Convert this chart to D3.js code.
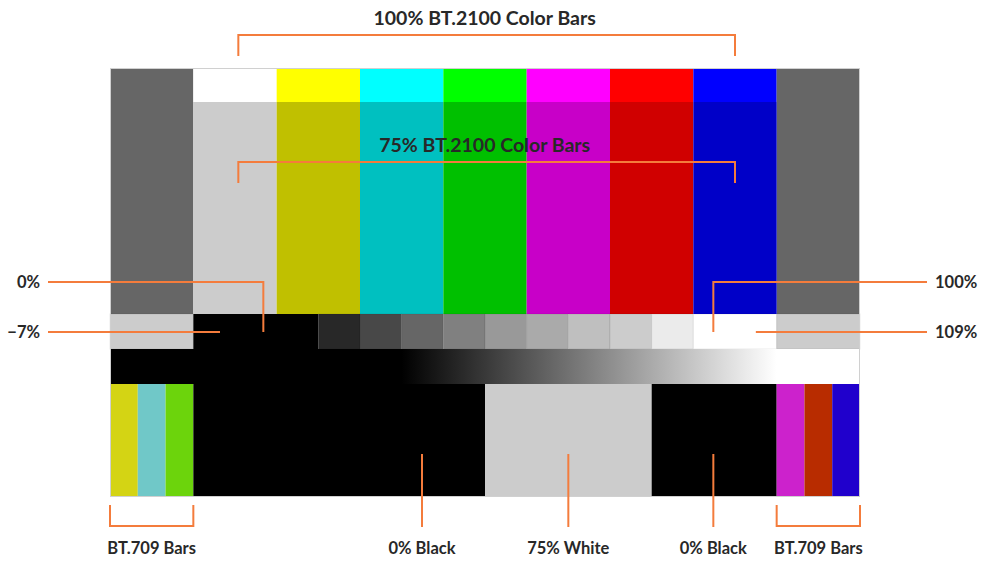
<!DOCTYPE html>
<html><head><meta charset="utf-8">
<script src="https://cdn.jsdelivr.net/npm/d3@7"></script>
<style>
body{margin:0;background:#fff}
svg{display:block}
text{font-family:Lato,"Open Sans",sans-serif;font-weight:700;fill:#282828}
</style>
</head><body>
<svg id="c" width="981" height="561"></svg>
<script>
// ---------- data ----------
const columns = ["Gray","White","Yellow","Cyan","Green","Magenta","Red","Blue","Gray"];
const colors100 = ["#666666","#ffffff","#ffff00","#00ffff","#00ff00","#ff00ff","#ff0000","#0000ff","#666666"];
const colors75  = ["#666666","#cccccc","#c0c000","#00c0c0","#00c000","#c800c8","#d00000","#0000c8","#666666"];

const stepStarts = [0, 1, 2.5, 3, 3.5, 4, 4.5, 5, 5.5, 6, 6.5, 7, 8];
const stepEnds   = [1, 2.5, 3, 3.5, 4, 4.5, 5, 5.5, 6, 6.5, 7, 8, 9];
const stepColors = ["#cccccc","#000000","#282828","#484848","#666666","#808080","#999999","#aaaaaa","#bfbfbf","#cccccc","#ebebeb","#ffffff","#cccccc"];

const rampStart = 3.5, rampEnd = 8;

const bottomStarts = [0, 1/3, 2/3, 1, 4.5, 6.5, 8, 8+1/3, 8+2/3];
const bottomEnds   = [1/3, 2/3, 1, 4.5, 6.5, 8, 8+1/3, 8+2/3, 9];
const bottomColors = ["#d4d414","#70c8c8","#6cd40c","#000000","#cccccc","#000000","#cc22cc","#b82c00","#2000cc"];

const topTitles = ["100% BT.2100 Color Bars", "75% BT.2100 Color Bars"];
const bracketFrom = 1.54, bracketTo = 7.5;

const leftLabels  = ["0%", "\u22127%"];
const leftEnds    = [1.84, 1.32];
const rightLabels = ["100%", "109%"];
const rightEnds   = [7.24, 7.75];

const bottomLabels = ["BT.709 Bars", "0% Black", "75% White", "0% Black", "BT.709 Bars"];
const bottomAt     = [0.5, 3.744, 5.5, 7.24, 8.5];

// ---------- layout ----------
const svg = d3.select("#c");
const x = d3.scaleLinear().domain([0, 9]).range([110, 860]);
const rowY = [68, 102, 314, 349, 384, 497];
const orange = "#f47c3c";

const g = svg.append("g");

// top row: 100% strip + 75% bars
g.selectAll(".c100").data(columns).join("rect")
  .attr("x", (d,i) => x(i)).attr("width", x(1)-x(0))
  .attr("y", rowY[0]).attr("height", (d,i) => (i===0||i===8) ? rowY[2]-rowY[0] : rowY[1]-rowY[0])
  .attr("fill", (d,i) => colors100[i]);
g.selectAll(".c75").data(columns.slice(1,8)).join("rect")
  .attr("x", (d,i) => x(i+1)).attr("width", x(1)-x(0))
  .attr("y", rowY[1]).attr("height", rowY[2]-rowY[1])
  .attr("fill", (d,i) => colors75[i+1]);

// step row
g.selectAll(".step").data(stepColors).join("rect")
  .attr("x", (d,i) => x(stepStarts[i])).attr("width", (d,i) => x(stepEnds[i]) - x(stepStarts[i]))
  .attr("y", rowY[2]).attr("height", rowY[3]-rowY[2])
  .attr("fill", d => d)
  .attr("stroke", (d,i) => i===1 ? "none" : "rgba(0,0,0,0.08)").attr("stroke-width", 1);

// ramp row
const defs = svg.append("defs");
const grad = defs.append("linearGradient").attr("id","ramp")
  .attr("gradientUnits","userSpaceOnUse")
  .attr("x1", x(rampStart)).attr("x2", x(rampEnd)).attr("y1",0).attr("y2",0);
grad.append("stop").attr("offset","0").attr("stop-color","#000");
grad.append("stop").attr("offset","1").attr("stop-color","#fff");
g.append("rect").attr("x", x(0)).attr("width", x(9)-x(0))
  .attr("y", rowY[3]).attr("height", rowY[4]-rowY[3]).attr("fill","url(#ramp)");

// bottom row
g.selectAll(".bot").data(bottomColors).join("rect")
  .attr("x", (d,i) => x(bottomStarts[i])).attr("width", (d,i) => x(bottomEnds[i]) - x(bottomStarts[i]))
  .attr("y", rowY[4]).attr("height", rowY[5]-rowY[4])
  .attr("fill", d => d);

// outline
g.append("rect").attr("x", x(0)+0.5).attr("y", rowY[0]+0.5)
  .attr("width", x(9)-x(0)-1).attr("height", rowY[5]-rowY[0]-1)
  .attr("fill","none").attr("stroke","#d0d0d0").attr("stroke-width",1);

// ---------- annotations ----------
const ann = svg.append("g").attr("fill","none").attr("stroke", orange).attr("stroke-width", 2);

// top brackets
const bracketY = [35, 162], legLen = 21;
bracketY.forEach(by => {
  ann.append("path").attr("d",
    `M${x(bracketFrom)},${by+legLen}V${by}H${x(bracketTo)}V${by+legLen}`);
});
svg.selectAll(".ttl").data(topTitles).join("text")
  .attr("x", (x(bracketFrom)+x(bracketTo))/2 - 2)
  .attr("y", (d,i) => bracketY[i] - 10)
  .attr("text-anchor","middle").attr("font-size", 19.5).text(d => d);

// left labels
const sideY = [282, 332];
leftLabels.forEach((t,i) => {
  if (i === 0) ann.append("path").attr("d", `M48,${sideY[0]}H${x(leftEnds[0])}V${sideY[1]}`);
  else ann.append("path").attr("d", `M48,${sideY[1]}H${x(leftEnds[1])}`);
});
svg.selectAll(".ll").data(leftLabels).join("text")
  .attr("x", 40).attr("y", (d,i) => sideY[i]).attr("dy","0.35em")
  .attr("text-anchor","end").attr("font-size", 16.5).text(d => d);

// right labels
rightLabels.forEach((t,i) => {
  if (i === 0) ann.append("path").attr("d", `M927,${sideY[0]}H${x(rightEnds[0])}V${sideY[1]}`);
  else ann.append("path").attr("d", `M927,${sideY[1]}H${x(rightEnds[1])}`);
});
svg.selectAll(".rl").data(rightLabels).join("text")
  .attr("x", 935).attr("y", (d,i) => sideY[i]).attr("dy","0.35em")
  .attr("text-anchor","start").attr("font-size", 16.5).text(d => d);

// bottom labels
bottomLabels.forEach((t,i) => {
  const c = bottomAt[i];
  if (i === 0 || i === 4) {
    ann.append("path").attr("d", `M${x(c-0.5)},505V526H${x(c+0.5)}V505`);
  } else {
    ann.append("path").attr("d", `M${x(c)},454V527`);
  }
});
svg.selectAll(".bl").data(bottomLabels).join("text")
  .attr("x", (d,i) => x(bottomAt[i])).attr("y", 548).attr("dy","0.35em")
  .attr("text-anchor","middle").attr("font-size", 16.5).text(d => d);
</script>
</body></html>
